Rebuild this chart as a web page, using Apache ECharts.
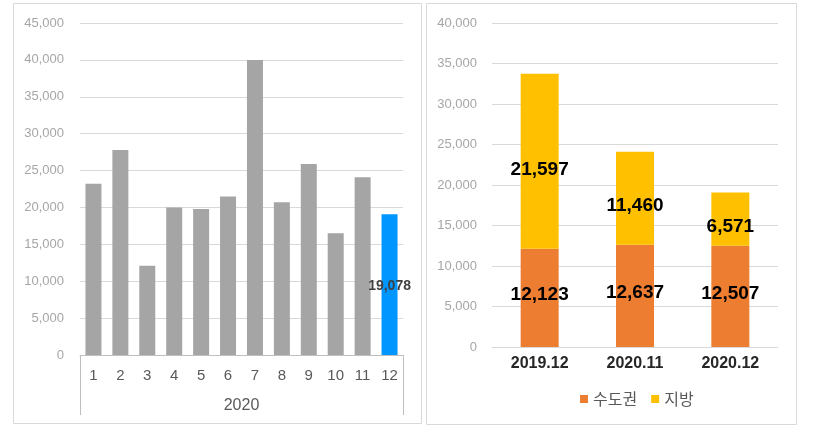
<!DOCTYPE html>
<html>
<head>
<meta charset="utf-8">
<script src="https://cdn.jsdelivr.net/npm/echarts@6/dist/echarts.min.js"></script>
<style>
html,body{margin:0;padding:0;background:#fff;}
#c{width:820px;height:432px;}
</style>
</head>
<body>
<div id="c"></div>
<script>
// Left chart data
const months = ['1','2','3','4','5','6','7','8','9','10','11','12'];
const yearGroup = ['2020'];
const monthly = [23200, 27800, 12100, 20000, 19800, 21500, 40000, 20700, 25900, 16500, 24100, 19078];
const leftTicks = [0, 5000, 10000, 15000, 20000, 25000, 30000, 35000, 40000, 45000];

// Right chart data
const periods = ['2019.12', '2020.11', '2020.12'];
const capital = [12123, 12637, 12507];   // 수도권
const regional = [21597, 11460, 6571];   // 지방
const seriesNames = ['수도권', '지방'];
const rightTicks = [0, 5000, 10000, 15000, 20000, 25000, 30000, 35000, 40000];

const fmt = v => Number(v).toLocaleString('en-US');
const FONT = 'Arial, "Liberation Sans", "Noto Sans CJK KR", sans-serif';
const KFONT = '"Noto Sans CJK KR", Arial, sans-serif';

const chart = echarts.init(document.getElementById('c'), null, {renderer: 'canvas'});
const option = {
  animation: false,
  backgroundColor: '#ffffff',
  textStyle: {fontFamily: FONT},
  graphic: [
    {type: 'rect', shape: {x: 13.5, y: 3.5, width: 408, height: 420}, style: {fill: 'none', stroke: '#D9D9D9', lineWidth: 1}, z: -1},
    {type: 'rect', shape: {x: 426.5, y: 3.5, width: 370, height: 421}, style: {fill: 'none', stroke: '#D9D9D9', lineWidth: 1}, z: -1}
  ],
  legend: {
    data: seriesNames,
    left: 575,
    top: 386,
    icon: 'rect',
    itemWidth: 8,
    itemHeight: 8,
    itemGap: 14,
    textStyle: {fontFamily: KFONT, fontSize: 16, color: '#595959'}
  },
  grid: [
    {left: 80, top: 23, width: 323, height: 332, containLabel: false},
    {left: 492, top: 23, width: 286, height: 324, containLabel: false}
  ],
  xAxis: [
    {
      type: 'category', gridIndex: 0, data: months,
      axisLine: {show: true, lineStyle: {color: '#BFBFBF', width: 1}},
      axisTick: {show: false},
      axisLabel: {color: '#595959', fontSize: 15, margin: 13, fontFamily: FONT}
    },
    {
      type: 'category', gridIndex: 0, data: yearGroup, position: 'bottom',
      axisLine: {show: false},
      axisTick: {show: true, length: 60, lineStyle: {color: '#BFBFBF', width: 1}},
      axisLabel: {color: '#595959', fontSize: 16, margin: 43, fontFamily: FONT}
    },
    {
      type: 'category', gridIndex: 1, data: periods,
      axisLine: {show: true, lineStyle: {color: '#D9D9D9', width: 1}},
      axisTick: {show: false},
      axisLabel: {color: '#262626', fontSize: 16, fontWeight: 'bold', margin: 9, fontFamily: FONT}
    }
  ],
  yAxis: [
    {
      type: 'value', gridIndex: 0, min: leftTicks[0], max: leftTicks[leftTicks.length - 1], interval: 5000,
      axisLine: {show: false}, axisTick: {show: false},
      splitLine: {lineStyle: {color: '#D9D9D9', width: 1}},
      axisLabel: {color: '#A6A6A6', fontSize: 13, margin: 16, formatter: fmt, fontFamily: FONT}
    },
    {
      type: 'value', gridIndex: 1, min: rightTicks[0], max: rightTicks[rightTicks.length - 1], interval: 5000,
      axisLine: {show: false}, axisTick: {show: false},
      splitLine: {lineStyle: {color: '#D9D9D9', width: 1}},
      axisLabel: {color: '#A6A6A6', fontSize: 13, margin: 15, formatter: fmt, fontFamily: FONT}
    }
  ],
  series: [
    {
      type: 'bar', xAxisIndex: 0, yAxisIndex: 0, barWidth: 16,
      data: monthly.map((v, i) => ({
        value: v,
        itemStyle: {color: i === monthly.length - 1 ? '#0096FF' : '#A5A5A5'},
        label: i === monthly.length - 1 ? {
          show: true, position: 'inside', offset: [0, 2], formatter: p => fmt(p.value),
          color: '#404040', fontSize: 14, fontWeight: 'bold', fontFamily: FONT
        } : {show: false}
      }))
    },
    {
      name: seriesNames[0], type: 'bar', stack: 'r', xAxisIndex: 2, yAxisIndex: 1, barWidth: 38,
      itemStyle: {color: '#ED7D31'},
      data: capital,
      label: {show: true, position: 'inside', offset: [0, -3], formatter: p => fmt(p.value),
        color: '#000000', fontSize: 19, fontWeight: 'bold', fontFamily: FONT}
    },
    {
      name: seriesNames[1], type: 'bar', stack: 'r', xAxisIndex: 2, yAxisIndex: 1, barWidth: 38,
      itemStyle: {color: '#FFC000'},
      data: regional,
      label: {show: true, position: 'inside', offset: [0, 8], formatter: p => fmt(p.value),
        color: '#000000', fontSize: 19, fontWeight: 'bold', fontFamily: FONT}
    }
  ]
};
chart.setOption(option);
</script>
</body>
</html>
